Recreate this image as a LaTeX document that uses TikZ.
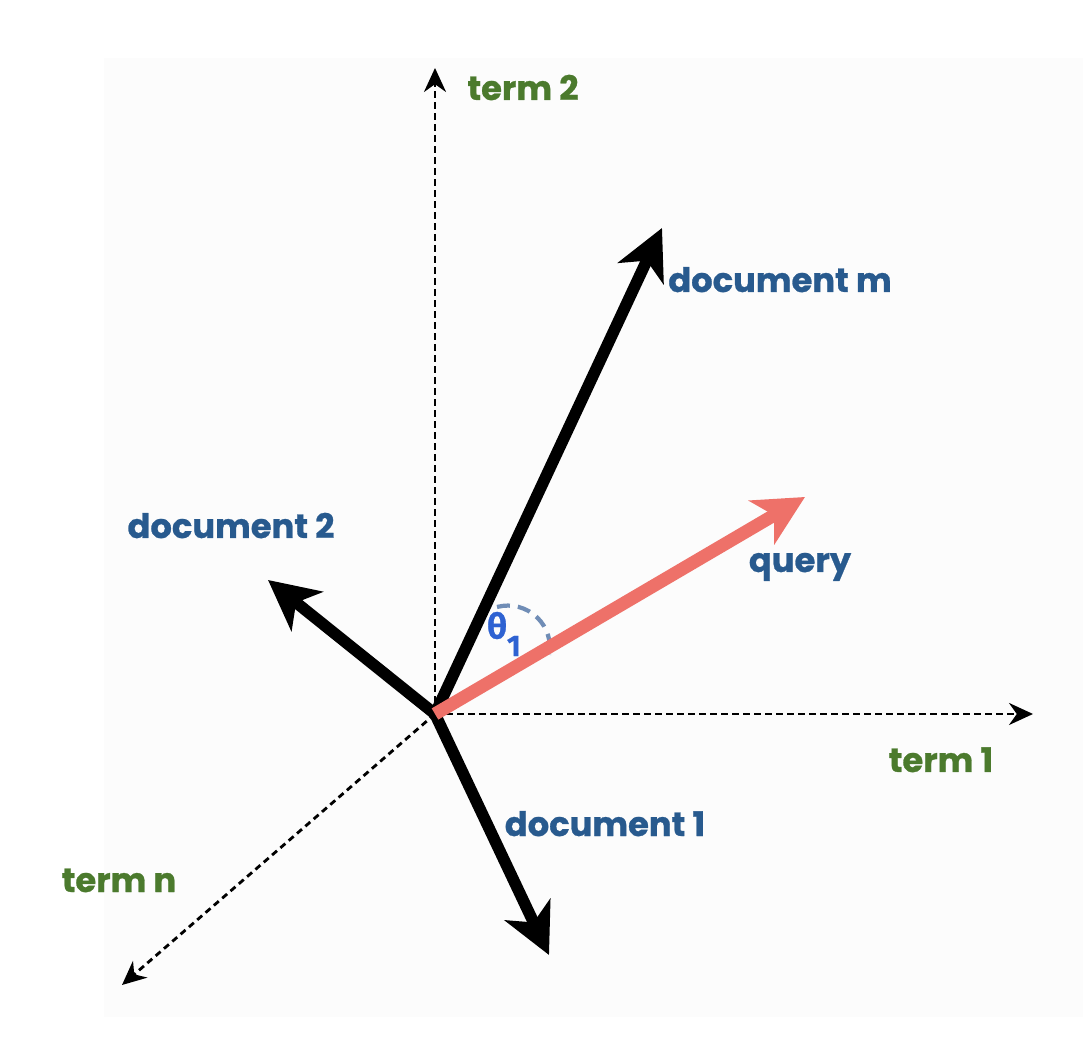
\documentclass[tikz,border=0pt]{standalone}
\usepackage{fontspec}
\setmainfont{Poppins}[BoldFeatures={FakeBold=0.8}]
\newfontfamily\greekfont{Fira Sans}[BoldFeatures={FakeBold=0.8}]
\usetikzlibrary{arrows.meta}
\definecolor{docblue}{HTML}{285A8E}
\definecolor{termgreen}{HTML}{4B7A2D}
\definecolor{qred}{HTML}{EE7169}
\definecolor{thetablue}{HTML}{2E62D2}
\definecolor{arcgray}{HTML}{708DB6}
\definecolor{bggray}{HTML}{FCFCFC}

\begin{document}
\begin{tikzpicture}[x=1cm, y=1cm,
    axis/.style={-{Stealth[length=2.4mm, width=2.2mm]}, line width=0.8pt, dash pattern=on 0.65mm off 0.45mm},
    vec/.style={-{Stealth[length=5mm, width=5mm, inset=1.4mm]}, line width=3.3pt},
    qvec/.style={vec, qred, line width=3.7pt},
    term/.style={text=termgreen, font=\fontsize{9.6}{11}\selectfont\bfseries, anchor=base},
    doc/.style={text=docblue, font=\fontsize{9.6}{11}\selectfont\bfseries, anchor=base},
    anglearc/.style={arcgray, line width=1.2pt, dash pattern=on 1.3mm off 0.8mm}]
                        \useasboundingbox (0, 0) rectangle (10.83, 10.51);
                        \fill[bggray] (1.04, 0.34) rectangle (10.83, 9.93);

                        \coordinate (o) at (4.35, 3.37);
                        \coordinate (t1) at (10.33, 3.37);
                        \coordinate (t2) at (4.35, 9.83);
                        \coordinate (tn) at (1.22, 0.66);
                        \coordinate (d1) at (5.49, 0.96);
                        \coordinate (d2) at (2.68, 4.71);
                        \coordinate (dm) at (6.62, 8.23);
                        \coordinate (q) at (8.05, 5.54);

                        \node[term] (l1) at (9.41, 2.79) {term 1};
                        \node[term] (l2) at (5.23, 9.51) {term 2};
                        \node[term] (ln) at (1.19, 1.59) {term n};
                        \node[doc] (m1) at (6.05, 2.15) {document 1};
                        \node[doc] (m2) at (2.31, 5.13) {document 2};
                        \node[doc] (mm) at (7.80, 7.59) {document m};
                        \node[doc] (lq) at (8.00, 4.79) {query};

                        \draw[anglearc] (4.97, 4.44) arc[start angle=105, end angle=-10, radius=0.42];
                        \node[text=thetablue, font=\greekfont\fontsize{10}{12}\selectfont\bfseries] (th) at (5.04, 4.17)
                            {θ\raisebox{-0.5em}{\fontsize{8.5}{10}\selectfont 1}};

                        \draw
                        (o) edge[axis] (t1)
                        (o) edge[axis] (t2)
                        (o) edge[axis] (tn)
                        (o) edge[vec] (d1)
                        (o) edge[vec] (d2)
                        (o) edge[vec] (dm)
                        (o) edge[qvec] (q);
                    \end{tikzpicture}
\end{document}
